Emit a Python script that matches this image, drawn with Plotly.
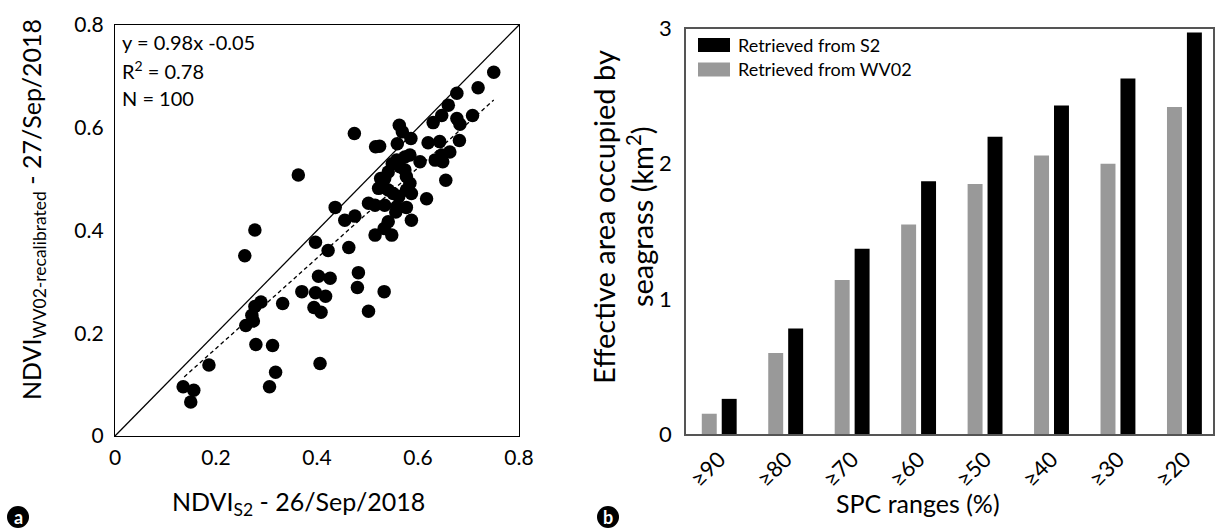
import plotly.graph_objects as go

W, H = 1215, 532

# ---------------- Panel a data ----------------
ndvi_s2 = [
    0.660, 0.647, 0.630, 0.677, 0.683, 0.708, 0.563, 0.569, 0.586, 0.516,
    0.559, 0.620, 0.643, 0.682, 0.663, 0.647, 0.634, 0.649, 0.584, 0.574,
    0.558, 0.549, 0.604, 0.564, 0.541, 0.534, 0.526, 0.574, 0.577, 0.655,
    0.584, 0.522, 0.541, 0.551, 0.562, 0.577, 0.587, 0.617, 0.502, 0.515,
    0.534, 0.558, 0.577, 0.556, 0.587, 0.541, 0.533, 0.515, 0.548,
    0.277, 0.257, 0.397, 0.422, 0.463, 0.403, 0.426, 0.482, 0.480, 0.533,
    0.370, 0.397, 0.417, 0.394, 0.408, 0.502, 0.332, 0.289, 0.277, 0.271,
    0.274, 0.259, 0.279, 0.312, 0.186, 0.318, 0.406, 0.306, 0.135, 0.156,
    0.150,
    0.750, 0.719, 0.677, 0.474, 0.363, 0.436, 0.455, 0.475, 0.524,
]
ndvi_wv02 = [
    0.644, 0.624, 0.610, 0.618, 0.607, 0.624, 0.605, 0.592, 0.579, 0.563,
    0.569, 0.571, 0.573, 0.575, 0.553, 0.547, 0.537, 0.534, 0.547, 0.543,
    0.537, 0.530, 0.534, 0.524, 0.514, 0.501, 0.501, 0.518, 0.505, 0.498,
    0.492, 0.482, 0.479, 0.472, 0.466, 0.479, 0.472, 0.462, 0.453, 0.449,
    0.449, 0.446, 0.445, 0.436, 0.420, 0.417, 0.404, 0.391, 0.391,
    0.401, 0.351, 0.377, 0.361, 0.367, 0.311, 0.307, 0.318, 0.289, 0.281,
    0.281, 0.279, 0.272, 0.250, 0.241, 0.243, 0.258, 0.261, 0.252, 0.235,
    0.224, 0.215, 0.178, 0.176, 0.138, 0.124, 0.141, 0.096, 0.096, 0.089,
    0.066,
    0.708, 0.678, 0.667, 0.589, 0.508, 0.445, 0.420, 0.428, 0.564,
]
one_to_one = [0.0, 0.8]
fit_x = [0.137, 0.750]
fit_y = [0.115, 0.654]
scatter_ticks = [0, 0.2, 0.4, 0.6, 0.8]
scatter_ticktext = ["0", "0.2", "0.4", "0.6", "0.8"]

# ---------------- Panel b data ----------------
spc_ranges = ["≥90", "≥80", "≥70", "≥60", "≥50", "≥40", "≥30", "≥20"]
area_wv02 = [0.15, 0.60, 1.14, 1.55, 1.85, 2.06, 2.00, 2.42]
area_s2 = [0.26, 0.78, 1.37, 1.87, 2.20, 2.43, 2.63, 2.97]
bar_ticks = [0, 1, 2, 3]

FONT = "Lato"


def fx(px):
    return px / W


def fy(py):
    return 1 - py / H


fig = go.Figure()

# Panel a
fig.add_trace(go.Scatter(x=one_to_one, y=one_to_one, mode="lines",
                         line=dict(color="black", width=1.3),
                         xaxis="x", yaxis="y", showlegend=False, hoverinfo="skip"))
fig.add_trace(go.Scatter(x=fit_x, y=fit_y, mode="lines",
                         line=dict(color="black", width=1.3, dash="4px,3px"),
                         xaxis="x", yaxis="y", showlegend=False, hoverinfo="skip"))
fig.add_trace(go.Scatter(x=ndvi_s2, y=ndvi_wv02, mode="markers",
                         marker=dict(color="black", size=13.5, line=dict(width=0)),
                         xaxis="x", yaxis="y", showlegend=False))

# Panel b
fig.add_trace(go.Bar(x=spc_ranges, y=area_wv02, name="Retrieved from WV02",
                     marker=dict(color="#999999", line=dict(width=0)),
                     xaxis="x2", yaxis="y2", showlegend=False))
fig.add_trace(go.Bar(x=spc_ranges, y=area_s2, name="Retrieved from S2",
                     marker=dict(color="#000000", line=dict(width=0)),
                     xaxis="x2", yaxis="y2", showlegend=False))

# plot areas (pixels)
A_L, A_R, A_T, A_B = 115, 519, 25, 436
B_L, B_R, B_T, B_B = 686, 1213, 28.5, 434

fig.update_layout(
    width=W, height=H,
    margin=dict(l=0, r=0, t=0, b=0, autoexpand=False),
    paper_bgcolor="white", plot_bgcolor="white",
    font=dict(family=FONT, color="black"),
    bargap=0.4, bargroupgap=0.25, barmode="group",
    xaxis=dict(domain=[fx(A_L), fx(A_R)], anchor="y", range=[0, 0.8],
               tickvals=scatter_ticks, ticktext=scatter_ticktext,
               showgrid=False, zeroline=False, showline=True, mirror=True,
               linecolor="black", linewidth=1.2, ticks="", automargin=False,
               tickfont=dict(size=21, family=FONT), ticklabelstandoff=3),
    yaxis=dict(domain=[fy(A_B), fy(A_T)], anchor="x", range=[0, 0.8],
               tickvals=scatter_ticks, ticktext=scatter_ticktext,
               showgrid=False, zeroline=False, showline=True, mirror=True,
               linecolor="black", linewidth=1.2, ticks="", automargin=False,
               tickfont=dict(size=21, family=FONT), ticklabelstandoff=6),
    xaxis2=dict(domain=[fx(B_L), fx(B_R)], anchor="y2", range=[-0.5, 7.43],
                showgrid=False, zeroline=False, showline=True, mirror=True,
                linecolor="#555555", linewidth=1.5, ticks="", automargin=False,
                tickangle=-45, tickfont=dict(size=22, family=FONT),
                ticklabelstandoff=2),
    yaxis2=dict(domain=[fy(B_B), fy(B_T)], anchor="x2", range=[0, 3.0],
                tickvals=bar_ticks, showgrid=False, zeroline=False,
                showline=True, mirror=True, linecolor="#555555", linewidth=1.5,
                ticks="", automargin=False, tickfont=dict(size=22, family=FONT),
                ticklabelstandoff=8),
)

ann = []
# stats text
for txt, py in [("y = 0.98x -0.05", 42), ("R<sup>2</sup> = 0.78", 70), ("N = 100", 98)]:
    ann.append(dict(x=fx(120), y=fy(py), xref="paper", yref="paper", text=txt,
                    showarrow=False, xanchor="left", yanchor="middle",
                    font=dict(size=20, family=FONT)))
# axis titles panel a
ann.append(dict(x=fx(298), y=fy(503), xref="paper", yref="paper",
                text="NDVI<sub>S2</sub> - 26/Sep/2018", showarrow=False,
                xanchor="center", yanchor="middle", font=dict(size=25, family=FONT)))
ann.append(dict(x=fx(33), y=fy(210), xref="paper", yref="paper",
                text="NDVI<sub>WV02-recalibrated</sub> - 27/Sep/2018", showarrow=False,
                textangle=-90, xanchor="center", yanchor="middle",
                font=dict(size=25, family=FONT)))
# axis titles panel b
ann.append(dict(x=fx(918), y=fy(503), xref="paper", yref="paper",
                text="SPC ranges (%)", showarrow=False,
                xanchor="center", yanchor="middle", font=dict(size=25, family=FONT)))
ann.append(dict(x=fx(603), y=fy(217), xref="paper", yref="paper",
                text="Effective area occupied by", showarrow=False, textangle=-90,
                xanchor="center", yanchor="middle", font=dict(size=29, family=FONT)))
ann.append(dict(x=fx(640), y=fy(217), xref="paper", yref="paper",
                text="seagrass (km<sup>2</sup>)", showarrow=False, textangle=-90,
                xanchor="center", yanchor="middle", font=dict(size=29, family=FONT)))

# legend (panel b)
shapes = []
for color, label, cy in [("#000000", "Retrieved from S2", 45), ("#999999", "Retrieved from WV02", 69.5)]:
    shapes.append(dict(type="rect", xref="paper", yref="paper",
                       x0=fx(698), x1=fx(730), y0=fy(cy + 7), y1=fy(cy - 7),
                       fillcolor=color, line=dict(width=0)))
    ann.append(dict(x=fx(736), y=fy(cy), xref="paper", yref="paper", text=label,
                    showarrow=False, xanchor="left", yanchor="middle",
                    font=dict(size=18, family=FONT)))

# panel letters
for letter, cx, cy in [("a", 18, 517), ("b", 608, 517)]:
    r = 11
    shapes.append(dict(type="circle", xref="paper", yref="paper",
                       x0=fx(cx - r), x1=fx(cx + r), y0=fy(cy + r), y1=fy(cy - r),
                       fillcolor="black", line=dict(width=0)))
    ann.append(dict(x=fx(cx), y=fy(cy), xref="paper", yref="paper",
                    text="<b>%s</b>" % letter, showarrow=False,
                    xanchor="center", yanchor="middle",
                    font=dict(size=18, family=FONT, color="white")))

fig.update_layout(annotations=ann, shapes=shapes)

fig.write_html(
    "out.html",
    config={"displayModeBar": False},
    post_script="document.body.style.margin='0px';document.body.style.padding='0px';"
                "document.body.style.overflow='hidden';",
)
